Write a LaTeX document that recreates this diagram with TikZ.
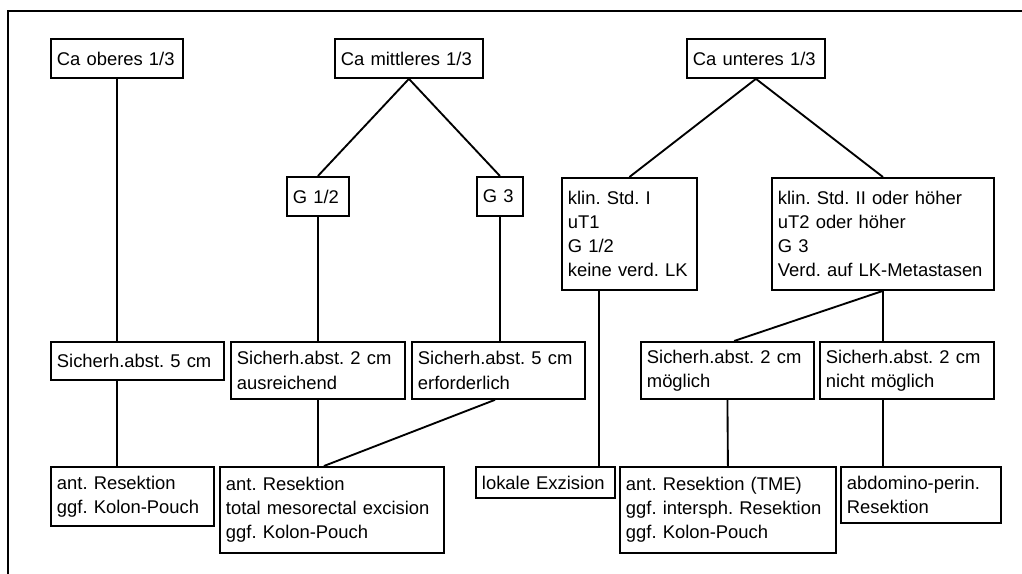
\documentclass[tikz,border=0pt]{standalone}
\usepackage{fontspec}
\setmainfont{Liberation Sans}
\usepackage{tikz}

\begin{document}
\frenchspacing
\begin{tikzpicture}[x=0.75pt, y=-0.75pt, line width=1.4pt,
  box/.style={draw, rectangle, anchor=north west, align=left, inner xsep=4.5pt, inner ysep=4pt,
    font=\fontsize{13.8}{18.2}\selectfont}]
\useasboundingbox (0,0) rectangle (1022,574);
\draw[line width=1.1pt] (8,574) -- (8,11) -- (1022,11);

% top row
\node (ob) [box, text width=90pt, minimum height=29.25pt] at (50,38) {Ca oberes 1/3};
\node (mid) [box, text width=102pt, minimum height=29.25pt] at (334,38) {Ca mittleres 1/3};
\node (unt) [box, text width=94.5pt, minimum height=29.25pt] at (686,38) {Ca unteres 1/3};

% second row
\node (g12) [box, text width=37.5pt, minimum height=29.25pt] at (286,176) {G 1/2};
\node (g3) [box, text width=25.5pt, minimum height=29.25pt] at (476,176) {G 3};
\node (k1) [box, text width=92.25pt, minimum height=84pt] at (561,177) {klin. Std. I\\uT1\\G 1/2\\keine verd. LK};
\node (k2) [box, text width=157.5pt, minimum height=84pt] at (771,177) {klin. Std. II oder höher\\uT2 oder höher\\G 3\\Verd. auf LK-Metastasen};

% Sicherheitsabstand
\node (s5) [box, text width=120.75pt, minimum height=28.5pt] at (50,341) {Sicherh.abst. 5 cm};
\node (s2a) [box, text width=121.5pt, minimum height=42.75pt] at (230,341) {Sicherh.abst. 2 cm\\ausreichend};
\node (s5e) [box, text width=120.75pt, minimum height=42.75pt] at (411,341) {Sicherh.abst. 5 cm\\erforderlich};
\node (s2m) [box, text width=120.75pt, minimum height=42.75pt] at (640,341) {Sicherh.abst. 2 cm\\möglich};
\node (s2n) [box, text width=121.5pt, minimum height=42.75pt] at (819,341) {Sicherh.abst. 2 cm\\nicht möglich};

% Therapie
\node (r1) [box, text width=113.25pt, minimum height=44.25pt] at (50,466) {ant. Resektion\\ggf. Kolon-Pouch};
\node (r2) [box, text width=159pt, minimum height=64.5pt] at (219,466) {ant. Resektion\\total mesorectal excision\\ggf. Kolon-Pouch};
\node (lok) [box, text width=95.25pt, minimum height=23.25pt] at (475,466) {lokale Exzision};
\node (r3) [box, text width=153pt, minimum height=64.5pt] at (619,466) {ant. Resektion (TME)\\ggf. intersph. Resektion\\ggf. Kolon-Pouch};
\node (ab) [box, text width=111pt, minimum height=42pt] at (840,466) {abdomino-perin.\\Resektion};

\draw (ob.south) -- (ob.south |- s5.north);
\draw (ob.south |- s5.south) -- (ob.south |- r1.north);
\draw (mid.south) -- (g12.north);
\draw (mid.south) -- (g3.north);
\draw (g12.south) -- (g12.south |- s2a.north);
\draw (g3.south) -- (g3.south |- s5e.north);
\draw (g12.south |- s2a.south) -- (g12.south |- r2.north);
\draw ([xshift=-2.6pt]s5e.south) -- ([xshift=-6pt]r2.north);
\draw (unt.south) -- (k1.north);
\draw (unt.south) -- (k2.north);
\draw ([xshift=-22.9pt]k1.south) -- ([xshift=-22.9pt]k1.south |- lok.north);
\draw (k2.south) -- ([xshift=5pt]s2m.north);
\draw (k2.south) -- (k2.south |- s2n.north);
\draw (s2m.south) -- (r3.north);
\draw (k2.south |- s2n.south) -- (k2.south |- ab.north);
\end{tikzpicture}
\end{document}
